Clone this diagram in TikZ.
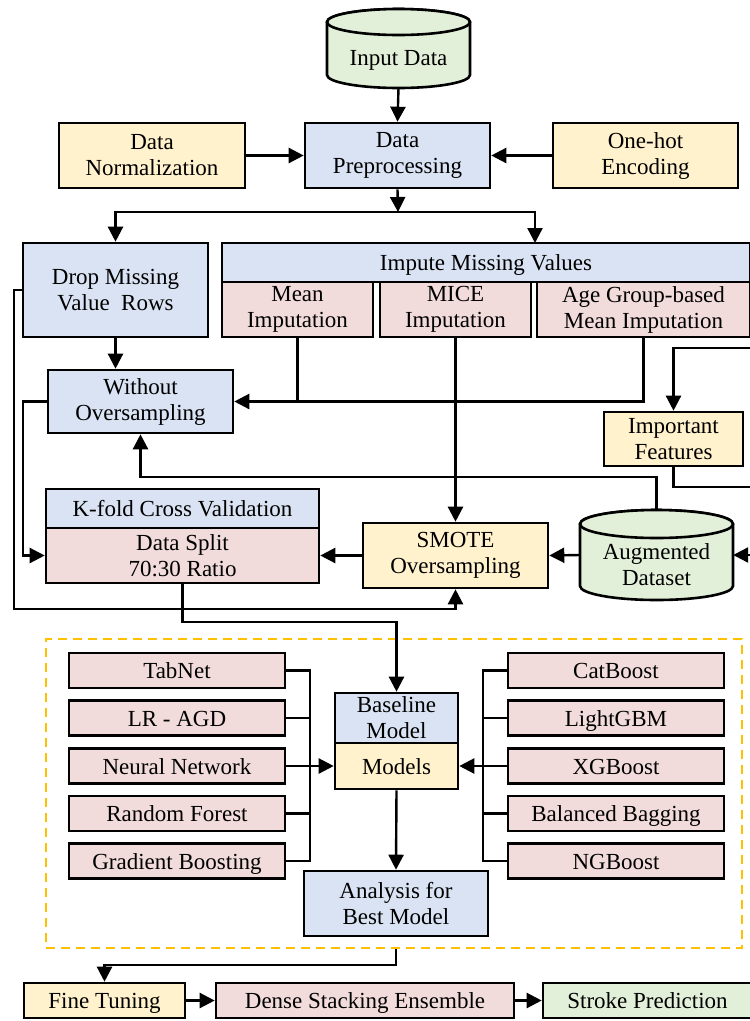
\documentclass[tikz,border=0pt]{standalone}
\usepackage{fontspec}
\setmainfont{Liberation Serif}
\usetikzlibrary{arrows.meta}
\definecolor{cblue}{HTML}{DAE3F3}
\definecolor{cpink}{HTML}{F2DCDB}
\definecolor{cyel}{HTML}{FFF2CC}
\definecolor{cgreen}{HTML}{E2F0D9}
\definecolor{cdash}{HTML}{FFC000}
\begin{document}
\begin{tikzpicture}[x=1pt,y=-1pt,
  fnt/.style={font=\fontsize{23}{26}\selectfont},
  one/.style={execute at begin node={\rule{0pt}{22pt}},
    execute at end node={\rule[-6pt]{0pt}{6pt}}},
  box/.style={draw, line width=2.6pt, inner sep=0pt, align=center, fnt},
  bl/.style={box, fill=cblue}, pk/.style={box, fill=cpink},
  ye/.style={box, fill=cyel}, gr/.style={box, fill=cgreen},
  txt/.style={align=center, inner sep=0pt, fnt},
  ghost/.style={inner sep=0pt},
  cyl/.style={draw, line width=2.6pt, fill=cgreen},
  ln/.style={line width=2.4pt},
  arr/.style={ln, -{Triangle[length=15pt,width=15pt]}}]
\useasboundingbox (0,0) rectangle (750,1021);
\clip (0,0) rectangle (750,1021);

% ---- Input Data cylinder
\node[ghost, minimum width=143pt, minimum height=79pt] (input) at (398.5,48.5) {};
\draw[cyl] (327,22) -- (327,75) arc[start angle=180, end angle=360, x radius=71.5pt, y radius=13pt]
  -- (470,22) arc[start angle=0, end angle=180, x radius=71.5pt, y radius=13pt] -- cycle;
\draw[cyl] (398.5,22) ellipse[x radius=71.5pt, y radius=13pt];
\node[txt, one] (inputtxt) at (398.5,57) {Input Data};

% ---- top row
\node[bl, minimum width=185pt, minimum height=65pt] (dp) at (397.5,155.5) {Data\\Preprocessing};
\node[ye, minimum width=186pt, minimum height=65pt] (dn) at (152,155.5) {Data\\Normalization};
\node[ye, minimum width=185pt, minimum height=65pt] (oh) at (645.5,155.5) {One-hot\\Encoding};

% ---- missing values
\node[bl, minimum width=185pt, minimum height=94pt] (drop) at (115.5,290) {Drop Missing\\Value\ \ Rows};
\node[bl, one, minimum width=528pt, minimum height=39pt] (impute) at (486,262.5) {Impute Missing Values};
\node[pk, minimum width=151pt, minimum height=55pt] (mean) at (297.5,309.5) {Mean\\Imputation};
\node[pk, minimum width=151pt, minimum height=55pt] (mice) at (455.5,309.5) {MICE\\Imputation};
\node[pk, minimum width=213pt, minimum height=55pt] (age) at (643.5,309.5) {Age Group-based\\Mean Imputation};

\node[bl, minimum width=185pt, minimum height=63pt] (without) at (140.5,401.5) {Without\\Oversampling};
\node[ye, minimum width=139pt, minimum height=54pt] (impfeat) at (673.5,439) {Important\\Features};

\node[bl, one, minimum width=273pt, minimum height=39pt] (kfold) at (182.5,508.5) {K-fold Cross Validation};
\node[pk, minimum width=273pt, minimum height=55pt] (split) at (182.5,555.5) {Data Split\\70:30 Ratio};
\node[ye, minimum width=185pt, minimum height=65pt] (smote) at (455.5,555.5) {SMOTE\\Oversampling};

% ---- Augmented cylinder
\node[ghost, minimum width=153pt, minimum height=90pt] (aug) at (656.5,555) {};
\draw[cyl] (580,524) -- (580,586) arc[start angle=180, end angle=360, x radius=76.5pt, y radius=14pt]
  -- (733,524) arc[start angle=0, end angle=180, x radius=76.5pt, y radius=14pt] -- cycle;
\draw[cyl] (656.5,524) ellipse[x radius=76.5pt, y radius=14pt];
\node[txt] (augtxt) at (656.5,565) {Augmented\\Dataset};

% ---- model block
\node[ghost, draw=cdash, line width=2.2pt, dash pattern=on 9pt off 6pt, minimum width=696pt, minimum height=309pt] (mlbox) at (394,793.5) {};

\node[pk, one, minimum width=216pt, minimum height=35pt] (tab) at (177,670.5) {TabNet};
\node[pk, one, minimum width=216pt, minimum height=35pt] (lr) at (177,718) {LR - AGD};
\node[pk, one, minimum width=216pt, minimum height=35pt] (nn) at (177,766) {Neural Network};
\node[pk, one, minimum width=216pt, minimum height=35pt] (rf) at (177,813.5) {Random Forest};
\node[pk, one, minimum width=216pt, minimum height=35pt] (gb) at (177,861) {Gradient Boosting};

\node[pk, one, minimum width=216pt, minimum height=35pt] (cat) at (616,670.5) {CatBoost};
\node[pk, one, minimum width=216pt, minimum height=35pt] (lgbm) at (616,718) {LightGBM};
\node[pk, one, minimum width=216pt, minimum height=35pt] (xgb) at (616,766) {XGBoost};
\node[pk, one, minimum width=216pt, minimum height=35pt] (bb) at (616,813.5) {Balanced Bagging};
\node[pk, one, minimum width=216pt, minimum height=35pt] (ngb) at (616,861) {NGBoost};

\node[bl, minimum width=123pt, minimum height=50pt] (baseline) at (396.5,718) {Baseline\\Model};
\node[ye, one, minimum width=123pt, minimum height=46pt] (models) at (396.5,766) {Models};
\node[bl, minimum width=184pt, minimum height=65pt] (analysis) at (396,903.5) {Analysis for\\Best Model};

% ---- bottom row
\node[ye, one, minimum width=161pt, minimum height=35pt] (fine) at (104.5,1000.5) {Fine Tuning};
\node[pk, one, minimum width=298pt, minimum height=35pt] (dense) at (365,1000.5) {Dense Stacking Ensemble};
\node[gr, one, minimum width=209pt, minimum height=35pt] (stroke) at (647.5,1000.5) {Stroke Prediction};

% ---- helper coordinates
\coordinate (bus) at (398,212);
\coordinate (impin) at (535,243);
\coordinate (rin) at (770,348);
\coordinate (rout) at (770,487);
\coordinate (raug) at (770,555);
\coordinate (y477) at (400,477);
\coordinate (L1) at (14,609);
\coordinate (L2) at (23,480);
\coordinate (L3) at (300,622);
\coordinate (L4) at (200,965);
\coordinate (lbus) at (310,0);
\coordinate (rbus) at (483,0);

% ---- connectors
\draw[arr] (input.south) -- (dp.north);
\draw[arr] (dn.east) -- (dp.west);
\draw[arr] (oh.west) -- (dp.east);
\draw[arr] (dp.south) -- (bus);
\draw[arr] (bus) -| (drop.north);
\draw[arr] (bus) -| (impin);
\draw[arr] (drop.south) -- (drop.south |- without.north);
\draw[arr] (mean.south) |- (without.east);
\draw[ln] (age.south) |- (mean.south |- without.east);
\draw[arr] (mice.south) -- (smote.north);
\draw[arr] (rin) -| (impfeat.north);
\draw[ln] (impfeat.south) |- (rout);
\draw[arr] (aug.north) -- (aug.north |- y477) -| (without.south);
\draw[arr] (raug) -- (aug.east);
\draw[arr] (aug.west) -- (smote.east);
\draw[arr] (smote.west) -- (split.east);
\draw[arr] (drop.west) -| (L1) -| (smote.south);
\draw[arr] (without.west) -| (L2) |- (split.west);
\draw[arr] (split.south) |- (L3) -| (baseline.north);

\draw[ln] (tab.east) -| (gb.east -| lbus) -- (gb.east);
\draw[ln] (lr.east) -- (lr.east -| lbus);
\draw[ln] (rf.east) -- (rf.east -| lbus);
\draw[arr] (nn.east) -- (models.west);
\draw[ln] (cat.west) -| (ngb.west -| rbus) -- (ngb.west);
\draw[ln] (lgbm.west) -- (lgbm.west -| rbus);
\draw[ln] (bb.west) -- (bb.west -| rbus);
\draw[arr] (xgb.west) -- (models.east);
\draw[arr] (models.south) -- (analysis.north);

\draw[arr] (mlbox.south -| analysis.south) |- (L4) -| (fine.north);
\draw[arr] (fine.east) -- (dense.west);
\draw[arr] (dense.east) -- (stroke.west);
\end{tikzpicture}
\end{document}
